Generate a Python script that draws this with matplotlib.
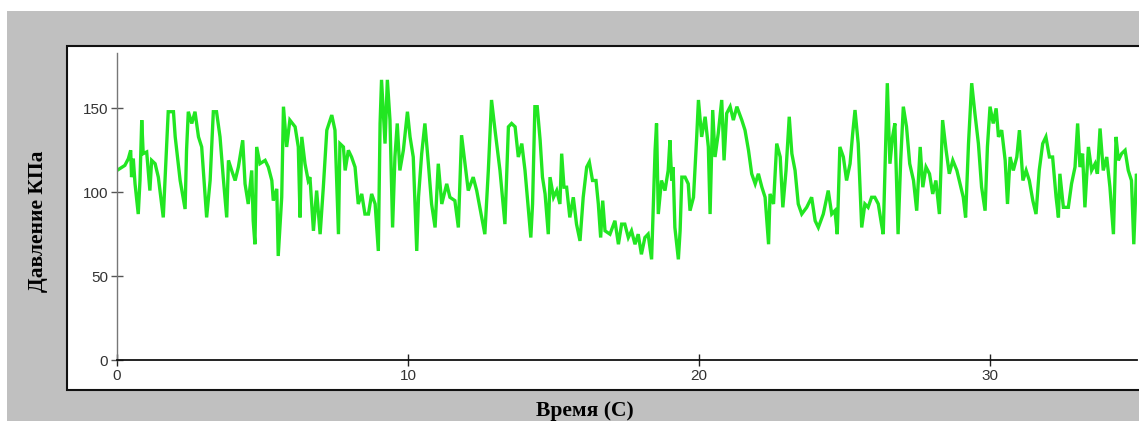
import matplotlib
matplotlib.use("Agg")
import matplotlib.pyplot as plt
from matplotlib.patches import Rectangle

# время, с (точки перегиба кривой)
time_s = [
    0.0, 0.27, 0.39, 0.47, 0.50, 0.56, 0.62, 0.73, 0.79, 0.85, 0.90, 1.02, 1.13, 1.19, 1.31, 1.42, 1.59,
    1.65, 1.76, 1.94, 2.00, 2.17, 2.34, 2.39, 2.45, 2.57, 2.68, 2.80, 2.91, 3.08, 3.20, 3.31, 3.42, 3.54,
    3.65, 3.77, 3.83, 3.94, 4.06, 4.17, 4.32, 4.40, 4.51, 4.63, 4.68, 4.74, 4.80, 4.91, 5.09, 5.20, 5.32,
    5.37, 5.49, 5.54, 5.66, 5.72, 5.83, 5.94, 6.12, 6.23, 6.29, 6.35, 6.46, 6.57, 6.63, 6.75, 6.86,
    6.98, 7.09, 7.21, 7.38, 7.49, 7.61, 7.66, 7.78, 7.84, 7.95, 8.06, 8.18, 8.29, 8.41, 8.52, 8.64, 8.75,
    8.87, 8.98, 9.04, 9.09, 9.21, 9.29, 9.38, 9.47, 9.55, 9.63, 9.72, 9.84, 9.98, 10.07, 10.18, 10.30,
    10.36, 10.47, 10.58, 10.70, 10.81, 10.93, 11.04, 11.16, 11.33, 11.44, 11.61, 11.73, 11.84, 11.96,
    12.07, 12.24, 12.36, 12.53, 12.64, 12.76, 12.87, 12.99, 13.16, 13.33, 13.45,
    13.56, 13.68, 13.79, 13.91, 14.02, 14.14, 14.22, 14.28, 14.36, 14.44, 14.54, 14.62, 14.71, 14.82,
    14.88, 15.00, 15.11, 15.22, 15.28, 15.36, 15.45, 15.56, 15.68, 15.79, 15.91, 16.02, 16.14, 16.23,
    16.34, 16.46, 16.54, 16.62, 16.69, 16.77, 16.94, 17.11, 17.23, 17.34, 17.45, 17.57, 17.68, 17.80,
    17.91, 18.02, 18.14, 18.25, 18.37, 18.42, 18.49, 18.54, 18.60, 18.71, 18.83, 18.94, 19.00, 19.06,
    19.11, 19.17, 19.29, 19.35, 19.41, 19.52, 19.63, 19.69, 19.81, 19.92, 19.98, 20.09, 20.21, 20.32,
    20.38, 20.47, 20.55, 20.66, 20.78, 20.86, 20.95, 21.07, 21.18, 21.30, 21.47, 21.58, 21.70, 21.81,
    21.93, 22.04, 22.16, 22.27, 22.39, 22.44, 22.56, 22.67, 22.79, 22.88, 22.99, 23.10, 23.19, 23.30,
    23.41, 23.53, 23.70, 23.87, 23.99, 24.10, 24.27, 24.44, 24.56, 24.67, 24.75, 24.84, 24.96, 25.07,
    25.19, 25.28, 25.36, 25.47, 25.59, 25.70, 25.81, 25.93, 26.04, 26.16, 26.27, 26.33, 26.39, 26.47,
    26.56, 26.65, 26.73, 26.84, 26.93, 27.02, 27.13, 27.24,
    27.37, 27.48, 27.60, 27.69, 27.80, 27.92, 28.03, 28.14, 28.26, 28.37, 28.49, 28.60, 28.72, 28.86,
    28.97, 29.08, 29.16, 29.26, 29.37, 29.48, 29.60, 29.71, 29.83, 29.91, 30.00, 30.11, 30.21, 30.29,
    30.40, 30.52, 30.60, 30.69, 30.80, 30.92, 31.01, 31.13, 31.24, 31.35, 31.47, 31.58, 31.69, 31.81,
    31.92, 32.04, 32.15, 32.27, 32.35, 32.40, 32.52, 32.69, 32.80, 32.92, 33.01, 33.09, 33.18, 33.26,
    33.38, 33.49, 33.61, 33.69, 33.78, 33.89, 34.01, 34.12, 34.18, 34.24, 34.33, 34.41, 34.52, 34.64,
    34.75, 34.86, 34.94, 35.03, 35.10,
]

# давление, кПа
pressure_kpa = [
    113, 116, 120, 125, 109, 120, 105, 87, 107, 143, 123, 124, 101, 119, 117, 109, 85,
    107, 148, 148, 133, 107, 90, 125, 148, 141, 148, 133, 127, 85, 107, 148, 148, 133,
    109, 85, 119, 113, 107, 115, 131, 105, 93, 113, 83, 69, 127, 117, 119, 115, 107,
    95, 102, 62, 97, 151, 127, 143, 139, 127, 85, 133, 117, 107, 109, 77, 101,
    75, 103, 137, 146, 137, 75, 129, 127, 113, 125, 121, 115, 93, 99, 87, 87, 99,
    93, 65, 141, 167, 129, 167, 143, 79, 121, 141, 113, 125, 148, 133, 121, 65,
    97, 123, 141, 117, 93, 79, 117, 93, 105, 97, 95, 79, 134, 117,
    101, 109, 101, 85, 75, 113, 155, 137, 113, 81, 139,
    141, 139, 121, 129, 113, 89, 73, 93, 151, 151, 131, 109, 99, 75,
    109, 97, 101, 93, 123, 103, 103, 85, 97, 81, 71, 97, 115, 118,
    107, 107, 93, 73, 95, 77, 75, 83, 69, 81, 81, 73, 77, 69,
    75, 63, 73, 75, 60, 87, 125, 141, 87, 107, 101, 113, 131, 107,
    115, 79, 60, 77, 109, 109, 105, 89, 97, 133, 155, 133, 145, 127,
    87, 149, 121, 135, 155, 119, 147, 151, 143, 151, 143, 137, 125, 111,
    105, 111, 103, 97, 69, 99, 93, 129, 121, 91, 113, 145, 123, 113,
    93, 87, 91, 97, 83, 79, 87, 101, 87, 89, 75, 127, 121, 107,
    117, 135, 149, 129, 79, 93, 91, 97, 97, 93, 81, 75, 113, 165,
    117, 133, 141, 75, 119, 151, 139, 117,
    107, 89, 127, 103, 115, 111, 99, 107, 87, 143, 125, 111, 119, 113,
    105, 97, 85, 129, 165, 147, 129, 103, 89, 127, 151, 141, 150, 133,
    137, 119, 93, 121, 113, 121, 137, 107, 113, 107, 95, 87, 113, 129,
    133, 121, 121, 97, 85, 111, 91, 91, 105, 115, 141, 115, 123, 91,
    127, 113, 117, 111, 138, 113, 121, 103, 89, 75, 133, 119, 123, 125,
    113, 107, 69, 111, 107,
]

x_ticks = [0, 10, 20, 30]
y_ticks = [0, 50, 100, 150]

W, H = 1139, 421
fig = plt.figure(figsize=(W / 100, H / 100), dpi=100, facecolor="white")

# серый фон окна и белая панель с рамкой
fig.patches.append(Rectangle((7 / W, 0), 1, 1 - 11 / H, transform=fig.transFigure,
                             facecolor="#c0c0c0", edgecolor="none", zorder=0))
fig.patches.append(Rectangle((67 / W, 1 - 390 / H), 1, (390 - 46) / H, transform=fig.transFigure,
                             facecolor="white", edgecolor="#111111", linewidth=1.5, zorder=1))

ax = fig.add_axes([117 / W, 1 - 360 / H, (1137 - 117) / W, (360 - 53) / H])
ax.set_zorder(5)
ax.set_facecolor("none")
ax.plot(time_s, pressure_kpa, color="#22e622", linewidth=2.4, solid_joinstyle="miter")

ax.set_xlim(0, 35.05)
ax.set_ylim(0, 183)
ax.set_xticks(x_ticks)
ax.set_yticks(y_ticks)

for side in ["top", "right"]:
    ax.spines[side].set_visible(False)
ax.spines["left"].set_color("#777777")
ax.spines["left"].set_linewidth(1.0)
ax.spines["bottom"].set_color("#111111")
ax.spines["bottom"].set_linewidth(1.3)

ax.tick_params(axis="both", direction="inout", length=9, width=1.0, colors="#222222",
               labelsize=11, labelcolor="#333333", pad=2)
ax.tick_params(axis="y", colors="#555555", labelcolor="#333333")
for lab in ax.get_xticklabels() + ax.get_yticklabels():
    lab.set_fontfamily("Liberation Sans")

fig.text(38 / W, 1 - 221 / H, "Давление КПа", rotation=90, ha="center", va="center",
         fontsize=15.5, fontweight="bold", family="Liberation Serif")
fig.text(585 / W, 1 - 411 / H, "Время (С)", ha="center", va="center",
         fontsize=15.5, fontweight="bold", family="Liberation Serif")

fig.savefig("out.png", dpi=100, facecolor="white")
